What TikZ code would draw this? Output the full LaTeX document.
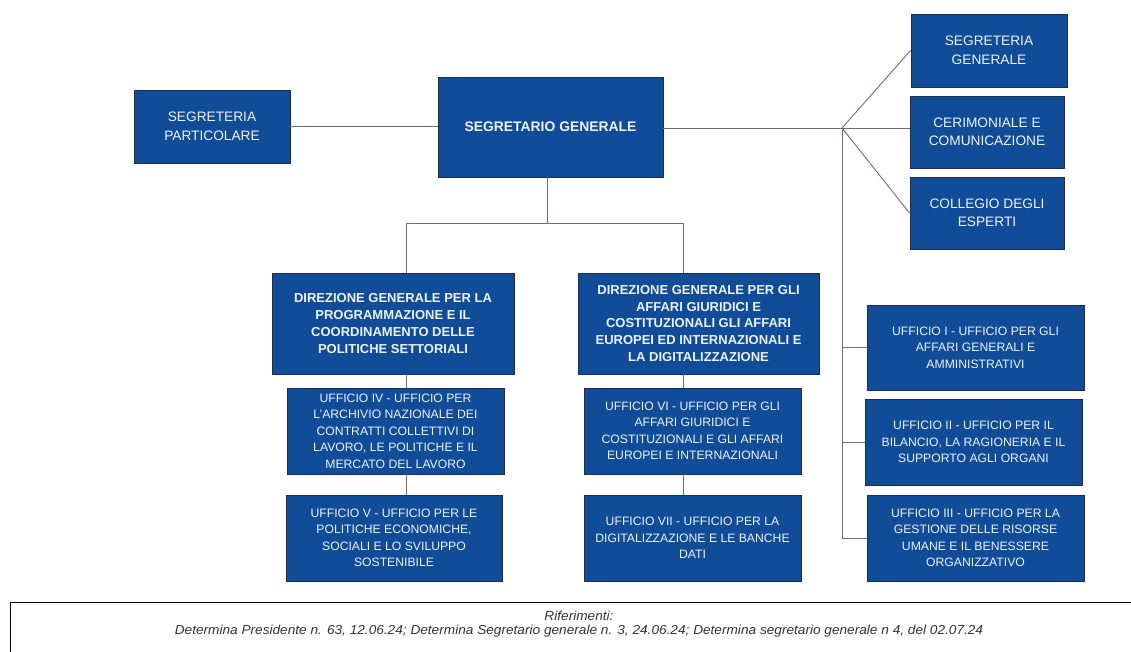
\documentclass[tikz,border=0pt]{standalone}
\usepackage{fontspec}
\setmainfont{Liberation Sans}
\newfontfamily\footfont[FakeStretch=1.05]{Liberation Sans}
\usepackage{xcolor}

\definecolor{officeblue}{RGB}{17,76,152}
\definecolor{officeedge}{RGB}{32,44,78}
\definecolor{officetext}{RGB}{236,241,250}
\definecolor{linkgray}{RGB}{104,110,124}

\tikzset{
  office/.style={draw=officeedge, fill=officeblue, text=officetext, line width=0.9pt,
    inner sep=0pt, align=center, font=\fontsize{13.7}{18.5}\selectfont},
  direction/.style={office, font=\fontsize{13}{16.7}\selectfont\bfseries},
  bureau/.style={office, font=\fontsize{12.2}{16.5}\selectfont},
  link/.style={draw=linkgray, line width=0.9pt},
}

\begin{document}
\begin{tikzpicture}[x=1pt, y=-1pt]
\useasboundingbox (0,0) rectangle (1131,651);

% Draw the top boxes
  \node[office, minimum width=156, minimum height=73] (segpart) at (212,126.5) {SEGRETERIA\\PARTICOLARE};
  \node[office, minimum width=225, minimum height=100, font=\fontsize{13.9}{18.5}\selectfont\bfseries] (segretario) at (550.5,127) {SEGRETARIO GENERALE};
  \node[office, minimum width=156, minimum height=73] (seggen) at (989,50.5) {SEGRETERIA\\GENERALE};
  \node[office, minimum width=154, minimum height=72] (cerim) at (987,132) {CERIMONIALE E\\COMUNICAZIONE};
  \node[office, minimum width=154, minimum height=72] (collegio) at (987,213) {COLLEGIO DEGLI\\ESPERTI};

% Draw the two directions
  \node[direction, minimum width=242, minimum height=101] (dirprog) at (393,323.5)
    {DIREZIONE GENERALE PER LA\\PROGRAMMAZIONE E IL\\COORDINAMENTO DELLE\\POLITICHE SETTORIALI};
  \node[direction, minimum width=241, minimum height=101] (dirgiur) at (698.5,323.5)
    {DIREZIONE GENERALE PER GLI\\AFFARI GIURIDICI E\\COSTITUZIONALI GLI AFFARI\\EUROPEI ED INTERNAZIONALI E\\LA DIGITALIZZAZIONE};

% Draw the offices under the directions
  \node[bureau, minimum width=217, minimum height=86] (uffiv) at (395.5,431)
    {UFFICIO IV - UFFICIO PER\\L'ARCHIVIO NAZIONALE DEI\\CONTRATTI COLLETTIVI DI\\LAVORO, LE POLITICHE E IL\\MERCATO DEL LAVORO};
  \node[bureau, minimum width=216, minimum height=86] (uffv) at (394,538)
    {UFFICIO V - UFFICIO PER LE\\POLITICHE ECONOMICHE,\\SOCIALI E LO SVILUPPO\\SOSTENIBILE};
  \node[bureau, minimum width=217, minimum height=86] (uffvi) at (692.5,431)
    {UFFICIO VI - UFFICIO PER GLI\\AFFARI GIURIDICI E\\COSTITUZIONALI E GLI AFFARI\\EUROPEI E INTERNAZIONALI};
  \node[bureau, minimum width=217, minimum height=86] (uffvii) at (692.5,538)
    {UFFICIO VII - UFFICIO PER LA\\DIGITALIZZAZIONE E LE BANCHE\\DATI};

% Draw the offices on the right
  \node[bureau, minimum width=217, minimum height=85] (uffi) at (975.5,347.5)
    {UFFICIO I - UFFICIO PER GLI\\AFFARI GENERALI E\\AMMINISTRATIVI};
  \node[bureau, minimum width=217, minimum height=86] (uffii) at (973.5,442)
    {UFFICIO II - UFFICIO PER IL\\BILANCIO, LA RAGIONERIA E IL\\SUPPORTO AGLI ORGANI};
  \node[bureau, minimum width=217, minimum height=86] (uffiii) at (975.5,538)
    {UFFICIO III - UFFICIO PER LA\\GESTIONE DELLE RISORSE\\UMANE E IL BENESSERE\\ORGANIZZATIVO};

% Footer with the references
  \node[draw=black, line width=0.8pt, minimum width=1138, minimum height=58] (refbox) at (579,631) {};
  \node[align=center, text=black!80, font=\footfont\fontsize{13}{14}\selectfont\itshape] (reftext) at (579,624)
    {Riferimenti:\\Determina Presidente n. 63, 12.06.24; Determina Segretario generale n. 3, 24.06.24; Determina segretario generale n 4, del 02.07.24};

% Draw the lines
  \coordinate (hub) at (842,128);
  \coordinate (split) at (547,223);
  \coordinate (leftdrop) at (406,223);
  \coordinate (rightdrop) at (683,223);
  \draw[link] (segpart.east) -- (segpart.east -| segretario.west);
  \draw[link] (segretario.east |- hub) -- (hub);
  \draw[link] (hub) -- (seggen.west);
  \draw[link] (hub) -- (cerim.west |- hub);
  \draw[link] (hub) -- (collegio.west);
  \draw[link] (hub) -- (hub |- uffiii.west);
  \draw[link] (hub |- uffi.west) -- (uffi.west);
  \draw[link] (hub |- uffii.west) -- (uffii.west);
  \draw[link] (hub |- uffiii.west) -- (uffiii.west);

  \draw[link] (segretario.south -| split) -- (split);
  \draw[link] (leftdrop) -- (rightdrop);
  \draw[link] (leftdrop) -- (leftdrop |- dirprog.north);
  \draw[link] (rightdrop) -- (rightdrop |- dirgiur.north);
  \draw[link] (dirprog.south -| leftdrop) -- (leftdrop |- uffiv.north);
  \draw[link] (uffiv.south -| leftdrop) -- (leftdrop |- uffv.north);
  \draw[link] (dirgiur.south -| rightdrop) -- (rightdrop |- uffvi.north);
  \draw[link] (uffvi.south -| rightdrop) -- (rightdrop |- uffvii.north);
\end{tikzpicture}
\end{document}
